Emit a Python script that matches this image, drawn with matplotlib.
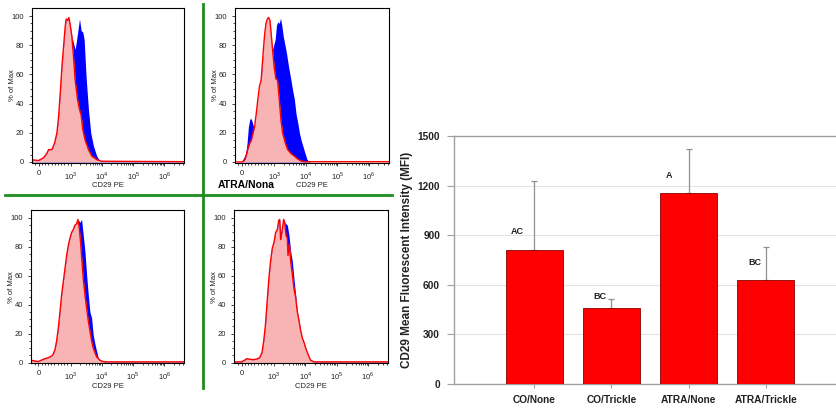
import matplotlib.pyplot as plt
import matplotlib.lines as mlines
import numpy as np

plt.rcParams["font.family"] = ["Liberation Sans", "DejaVu Sans"]
plt.rcParams["mathtext.fontset"] = "custom"
plt.rcParams["mathtext.rm"] = "Liberation Sans"

# ---- flow histograms (CD29 PE intensity, % of max) ----
p1_red_x = [-206, 0, 155, 258, 309, 412, 495, 567, 619, 670, 722, 773, 825, 856, 897, 938, 979,
            1076, 1216, 1375, 1632, 1891, 2137, 2415, 2867, 3663, 4680, 6760, 9760, 4.25e6]
p1_red_y = [1.5, 1, 3, 6, 8.5, 8.5, 13, 20, 31, 47, 65, 79, 93, 98, 97, 99, 94,
            86, 72, 56, 43, 36, 32, 22, 15, 8.5, 4, 1.6, 0.5, 0.2]
p1_blue_x = [-206, 0, 155, 258, 309, 412, 495, 567, 619, 670, 722, 773, 825, 856, 897, 938, 979,
             1076, 1375, 1632, 1891, 2137, 2415, 2665, 3086, 3663, 4347, 5288, 6760, 8630, 4.25e6]
p1_blue_y = [1.5, 1, 3, 6, 8.5, 8.5, 13, 20, 31, 47, 65, 79, 93, 98, 97, 99, 94,
             86, 77, 88, 98, 90, 89, 84, 58, 36, 20, 11, 4, 0.5, 0.2]

p2_red_x = [-200, 0, 50, 100, 150, 200, 250, 300, 350, 400, 450, 500, 550, 600, 630, 670, 710, 750,
            790, 830, 870, 900, 950, 1000, 1130, 1277, 1444, 1632, 1845, 2244, 2665, 3404, 4347,
            5556, 7097, 9064, 4.3e6]
p2_red_y = [0, 0, 0.5, 1.6, 5, 9.6, 13, 15, 20, 24, 33, 43, 52, 56, 65, 77, 88, 95,
            98, 99, 97, 90, 77, 65, 57, 56, 43, 29, 20, 13, 8.5, 5.7, 4,
            2, 0.7, 0.2, 0.2]
p2_blue_x = [-200, 0, 70, 130, 170, 210, 250, 280, 320, 370, 420, 470, 550, 650, 750, 850, 950,
             1076, 1187, 1309, 1444, 1593, 1756, 1938, 2244, 2475, 2867, 3404, 3846, 4347, 4914,
             5556, 6280, 7097, 8425, 9760, 10760, 12170, 14800, 4.3e6]
p2_blue_y = [0, 0, 3, 6, 13, 24, 29, 30, 28, 24, 20, 24, 43, 70, 88, 90, 77,
             84, 94, 96, 95, 98.5, 93, 86, 79, 74, 65, 56, 49, 43, 33,
             27, 20, 15, 9.6, 5, 2, 0.5, 0, 0]

p3_red_x = [-227, 0, 103, 206, 309, 412, 464, 515, 567, 619, 670, 722, 773, 825, 876, 928, 979,
            1076, 1216, 1375, 1554, 1714, 1891, 2085, 2300, 2537, 2867, 3240, 3663, 4140, 4680,
            5288, 5978, 6760, 8630, 11030, 14090, 4.25e6]
p3_red_y = [1.6, 0.7, 1.8, 2.7, 3.4, 4.6, 6, 9, 15, 24, 35, 47, 56, 65, 74, 81, 86,
            90, 92, 95, 96, 99, 93, 83, 70, 58, 47, 38, 29, 22, 15,
            10, 7, 4, 1.6, 0.7, 0.5, 0.5]
p3_blue_x = [-227, 0, 103, 206, 309, 412, 464, 515, 567, 619, 670, 722, 773, 825, 876, 928, 979,
             1076, 1216, 1375, 1554, 1714, 1986, 2244, 2537, 2867, 3240, 3663, 4140, 4680, 5288,
             5978, 6760, 7638, 9760, 14090, 4.25e6]
p3_blue_y = [1.6, 0.7, 1.8, 2.7, 3.4, 4.6, 6, 9, 15, 24, 35, 47, 56, 65, 74, 81, 86,
             90, 92, 95, 96, 99, 97, 99, 88, 77, 61, 47, 35, 31, 19,
             13, 8, 3.4, 1, 0.5, 0.5]

p4_red_x = [-232, 0, 105, 158, 263, 368, 474, 558, 632, 684, 737, 789, 842, 895, 947, 1000,
            1130, 1277, 1409, 1516, 1632, 1845, 2035, 2190, 2415, 2665, 2798, 3086, 3404, 3846,
            4347, 4914, 5556, 6280, 7097, 8020, 9064, 10250, 11580, 13090, 14800, 18900, 4.3e6]
p4_red_y = [0.5, 0.5, 1.8, 2.7, 2.3, 2, 2.5, 3.4, 7, 15, 26, 42, 58, 70, 79, 83,
            90, 92, 98, 99, 85, 92, 99, 97, 88, 86, 74, 82, 70, 61,
            51, 45, 35, 29, 22, 17, 14, 10, 7, 4, 1.6, 0.5, 0.5]
p4_blue_x = [-232, 0, 105, 158, 263, 368, 474, 558, 632, 684, 737, 789, 842, 895, 947, 1000,
             1130, 1277, 1409, 1516, 1632, 1845, 2035, 2190, 2415, 2665, 3012, 3404, 3846, 4347,
             4914, 5556, 6280, 7097, 8020, 9064, 10250, 11580, 13090, 14800, 18900, 4.3e6]
p4_blue_y = [0.5, 0.5, 1.8, 2.7, 2.3, 2, 2.5, 3.4, 7, 15, 26, 42, 58, 70, 79, 83,
             90, 92, 98, 99, 90, 92, 99, 97, 96, 95, 88, 77, 70, 58,
             47, 35, 29, 22, 17, 14, 10, 7, 4, 1.6, 0.5, 0.5]

x_ticks = [0, 1e3, 1e4, 1e5, 1e6]
x_tick_labels = ["0", "$10^3$", "$10^4$", "$10^5$", "$10^6$"]
y_ticks = [0, 20, 40, 60, 80, 100]

# ---- bar chart ----
groups = ["CO/None", "CO/Trickle", "ATRA/None", "ATRA/Trickle"]
mfi = [810, 460, 1158, 628]
mfi_err = [420, 52, 262, 202]
letters = ["AC", "BC", "A", "BC"]
letter_y = [924, 527, 1262, 735]
letter_dx = [-0.22, -0.15, -0.26, -0.14]
mfi_ticks = [0, 300, 600, 900, 1200, 1500]

W, H = 836, 408
fig = plt.figure(figsize=(W / 100, H / 100), dpi=100)


def px_axes(x0, y0, x1, y1):
    return fig.add_axes([x0 / W, 1 - y1 / H, (x1 - x0) / W, (y1 - y0) / H])


def histogram(ax, rx, ry, bx, by, xmax):
    ax.set_xscale("symlog", linthresh=1000, linscale=0.93)
    ax.fill_between(bx, by, 0, color="#0000ff", lw=0)
    ax.fill_between(rx, ry, 0, color="#f8b4b4", lw=0)
    ax.plot(rx, ry, color="#ff0000", lw=1.0)
    ax.set_xlim(rx[0], xmax)
    ax.set_ylim(-0.5, 105.5)
    ax.set_xticks(x_ticks)
    ax.set_xticklabels(x_tick_labels)
    minor = [-100] + list(range(100, 1000, 100))
    for d in [1e3, 1e4, 1e5, 1e6]:
        minor += [k * d for k in range(2, 10)]
    ax.set_xticks([m for m in minor if m < xmax], minor=True)
    ax.set_yticks(y_ticks)
    ax.set_yticks(np.arange(0, 105, 5), minor=True)
    ax.tick_params(labelsize=5.5, length=2.5, width=0.6, colors="#222222")
    ax.tick_params(axis="y", pad=3)
    ax.tick_params(axis="x", pad=2.5)
    ax.tick_params(which="minor", length=1.5, width=0.5)
    ax.set_xlabel("CD29 PE", fontsize=5.5, labelpad=0.5, color="#222222")
    ax.set_ylabel("% of Max", fontsize=5.5, color="#222222")
    ax.yaxis.set_label_coords(-0.105, 0.5)
    for s in ax.spines.values():
        s.set_linewidth(0.8)


ax1 = px_axes(32, 8, 184, 162.7)
histogram(ax1, p1_red_x, p1_red_y, p1_blue_x, p1_blue_y, 4.25e6)
ax2 = px_axes(235, 8, 389, 162.7)
histogram(ax2, p2_red_x, p2_red_y, p2_blue_x, p2_blue_y, 4.3e6)
ax3 = px_axes(31, 210, 184, 363.3)
histogram(ax3, p3_red_x, p3_red_y, p3_blue_x, p3_blue_y, 4.25e6)
ax4 = px_axes(234, 210, 388, 363.3)
histogram(ax4, p4_red_x, p4_red_y, p4_blue_x, p4_blue_y, 4.3e6)

fig.text(218 / W, 1 - 185 / H, "ATRA/Nona", fontsize=7.5, fontweight="bold", va="center", ha="left")

# green separators
fig.add_artist(mlines.Line2D([5 / W, 392 / W], [1 - 195 / H, 1 - 195 / H], color="#1e8c1e", lw=2))
fig.add_artist(mlines.Line2D([203 / W, 203 / W], [1 - 4 / H, 1 - 388 / H], color="#1e8c1e", lw=2))

# bar chart
axb = px_axes(454, 136, 836, 384)
pos = np.arange(len(groups))
axb.bar(pos, mfi, width=0.74, color="#ff0000", edgecolor="#8b0000", linewidth=0.6, zorder=3)
axb.errorbar(pos, mfi, yerr=[np.zeros(len(mfi)), mfi_err], fmt="none", ecolor="#909090",
             elinewidth=0.9, capsize=2.5, capthick=0.9, zorder=2)
for i in range(len(groups)):
    axb.text(pos[i] + letter_dx[i], letter_y[i], letters[i], fontsize=6.5, fontweight="bold",
             ha="center", va="center", color="#222222", zorder=4)
axb.set_xlim(-1.04, 3.91)
axb.set_ylim(0, 1500)
axb.set_yticks(mfi_ticks)
axb.set_xticks(pos)
axb.set_xticklabels(groups)
axb.yaxis.grid(True, color="#e4e4e4", lw=0.8, zorder=0)
axb.set_axisbelow(True)
axb.spines["right"].set_visible(False)
for k in ["left", "top", "bottom"]:
    axb.spines[k].set_color("#a0a0a0")
    axb.spines[k].set_linewidth(1.0)
axb.tick_params(axis="both", colors="#a0a0a0", width=0.8)
axb.tick_params(axis="y", length=5, pad=5)
axb.tick_params(axis="x", length=3, pad=5)
for lab in axb.get_xticklabels() + axb.get_yticklabels():
    lab.set_color("#222222")
    lab.set_fontweight("bold")
    lab.set_fontsize(7.3)
axb.set_ylabel("CD29 Mean Fluorescent Intensity (MFI)", fontsize=8.5, fontweight="bold",
               color="#222222")
axb.yaxis.set_label_coords(-0.107, 0.5)

fig.savefig("out.png", dpi=100)
